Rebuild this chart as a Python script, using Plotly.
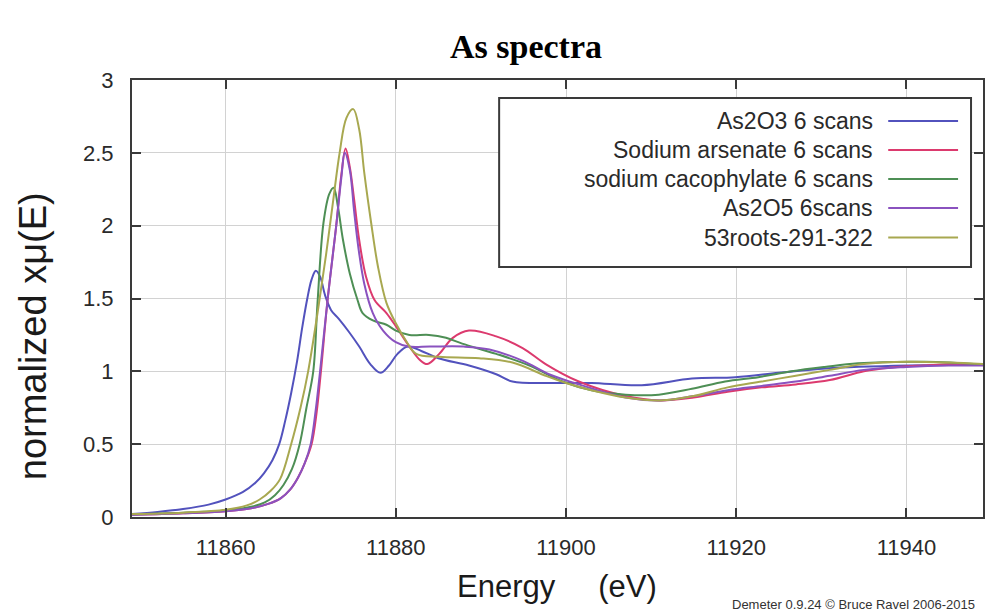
import plotly.graph_objects as go

# ---------------- data ----------------
series_names = ["As2O3 6 scans", "Sodium arsenate 6 scans", "sodium cacophylate 6 scans",
                "As2O5 6scans", "53roots-291-322"]
series_colors = ["#5252bd", "#dc3a6e", "#4e8f55", "#8a52bf", "#a8a850"]

e_as2o3 = [11849, 11852, 11855, 11858, 11860, 11862, 11863.5, 11864.5, 11865.5, 11866.3,
           11867.0, 11867.7, 11868.4, 11869.0, 11869.6, 11870.1, 11870.6, 11871.1, 11871.7, 11872.4,
           11873.3, 11874.5, 11875.7, 11877.0, 11878.2, 11879.2, 11880.2, 11881.4, 11883.0, 11885.0,
           11888.6, 11891.8, 11893.7, 11899.2, 11903.0, 11908.9, 11914.8, 11919.9, 11925.0, 11930.5,
           11940.2, 11949]
mu_as2o3 = [0.02, 0.035, 0.055, 0.085, 0.12, 0.17, 0.235, 0.30, 0.39, 0.50,
            0.66, 0.85, 1.07, 1.30, 1.50, 1.63, 1.69, 1.65, 1.52, 1.42,
            1.36, 1.27, 1.17, 1.05, 0.99, 1.04, 1.12, 1.17, 1.14, 1.09,
            1.04, 0.98, 0.93, 0.92, 0.92, 0.905, 0.95, 0.96, 0.99, 1.02,
            1.04, 1.045]

e_na_arsenate = [11849, 11855, 11860, 11863, 11865, 11866.5, 11867.6, 11868.5, 11869.3, 11870.1,
                 11870.7, 11871.2, 11872.0, 11873.0, 11873.6, 11874.1, 11874.6, 11875.1, 11875.7, 11876.5,
                 11877.5, 11878.9, 11880.0, 11881.6, 11882.8, 11883.7, 11885.1, 11886.7, 11888.6, 11891.8,
                 11894.9, 11897.6, 11901.5, 11907, 11911, 11915, 11919, 11923, 11927, 11931,
                 11935, 11938, 11942, 11946, 11949]
mu_na_arsenate = [0.015, 0.025, 0.04, 0.06, 0.09, 0.13, 0.19, 0.27, 0.37, 0.50,
                  0.72, 1.00, 1.50, 2.00, 2.35, 2.53, 2.40, 2.18, 1.90, 1.65,
                  1.49, 1.40, 1.31, 1.17, 1.08, 1.05, 1.12, 1.23, 1.28, 1.24,
                  1.16, 1.05, 0.93, 0.83, 0.80, 0.82, 0.86, 0.89, 0.91, 0.94,
                  1.00, 1.025, 1.04, 1.05, 1.045]

e_cacodylate = [11849, 11855, 11860, 11863, 11864.6, 11865.8, 11866.8, 11867.8, 11868.7, 11869.5,
                11870.3, 11870.8, 11871.5, 11872.2, 11872.7, 11873.2, 11873.8, 11874.6, 11875.5, 11876.1,
                11877.3, 11878.9, 11880.0, 11881.6, 11883.9, 11885.9, 11887.8, 11891.8, 11895.7, 11899.6,
                11903, 11907, 11910.9, 11914.8, 11918.7, 11922.6, 11926.5, 11930.4, 11934.3, 11942.2,
                11949]
mu_cacodylate = [0.018, 0.03, 0.045, 0.07, 0.10, 0.15, 0.22, 0.33, 0.50, 0.75,
                 1.00, 1.47, 2.02, 2.22, 2.26, 2.13, 1.90, 1.67, 1.49, 1.40,
                 1.35, 1.32, 1.28, 1.25, 1.25, 1.23, 1.19, 1.12, 1.04, 0.93,
                 0.87, 0.84, 0.84, 0.88, 0.93, 0.96, 1.00, 1.03, 1.055, 1.065,
                 1.045]

e_as2o5 = [11849, 11855, 11860, 11863, 11865, 11866.5, 11867.6, 11868.5, 11869.3, 11870.0,
           11870.6, 11871.1, 11872.0, 11873.0, 11873.6, 11874.0, 11874.6, 11875.1, 11875.6, 11876.3,
           11877.3, 11878.5, 11880.0, 11881.5, 11884, 11888, 11891, 11895, 11898, 11901,
           11907, 11911, 11915, 11919, 11923, 11927, 11931, 11935, 11940, 11945,
           11949]
mu_as2o5 = [0.015, 0.025, 0.04, 0.06, 0.09, 0.13, 0.19, 0.27, 0.37, 0.50,
            0.74, 1.00, 1.50, 2.00, 2.33, 2.50, 2.38, 2.10, 1.85, 1.60,
            1.40, 1.28, 1.20, 1.17, 1.17, 1.17, 1.15, 1.07, 0.98, 0.92,
            0.82, 0.80, 0.83, 0.87, 0.90, 0.93, 0.97, 1.01, 1.03, 1.04,
            1.04]

e_roots = [11849, 11855, 11860, 11862.5, 11864.0, 11865.3, 11866.4, 11867.7, 11868.8, 11869.7,
           11870.8, 11871.8, 11872.7, 11873.4, 11874.2, 11875.0, 11875.7, 11876.3, 11877.1, 11877.9,
           11878.9, 11880.0, 11881.2, 11882.4, 11885.1, 11889.8, 11893.7, 11897.6, 11900, 11903,
           11907, 11911, 11915, 11919, 11923, 11927, 11931, 11935, 11940, 11945,
           11949]
mu_roots = [0.02, 0.03, 0.05, 0.08, 0.12, 0.18, 0.26, 0.50, 0.75, 1.00,
            1.40, 1.80, 2.20, 2.50, 2.74, 2.80, 2.66, 2.36, 2.02, 1.72,
            1.47, 1.33, 1.21, 1.12, 1.10, 1.09, 1.06, 0.97, 0.92, 0.87,
            0.82, 0.80, 0.83, 0.89, 0.93, 0.97, 1.01, 1.05, 1.065, 1.06,
            1.05]

x_ticks = [11860, 11880, 11900, 11920, 11940]
x_tick_text = ["11860", "11880", "11900", "11920", "11940"]
y_ticks = [0, 0.5, 1, 1.5, 2, 2.5, 3]
y_tick_text = ["0", "0.5", "1", "1.5", "2", "2.5", "3"]

series_e = [e_as2o3, e_na_arsenate, e_cacodylate, e_as2o5, e_roots]
series_mu = [mu_as2o3, mu_na_arsenate, mu_cacodylate, mu_as2o5, mu_roots]

# ---------------- figure ----------------
W, H = 993, 612
L, R, T, B = 132, 8, 80, 95
PW, PH = W - L - R, H - T - B


def px(xp):
    return (xp - L) / PW


def py(yp):
    return (H - B - yp) / PH


fig = go.Figure()
for name, col, e, mu in zip(series_names, series_colors, series_e, series_mu):
    fig.add_trace(go.Scatter(x=e, y=mu, mode="lines", name=name,
                             line=dict(color=col, width=2, shape="spline", smoothing=1.0),
                             showlegend=False))

axis_common = dict(showline=True, linecolor="#3a3a3a", linewidth=2, mirror="ticks",
                   ticks="inside", ticklen=9, tickwidth=2, tickcolor="#3a3a3a",
                   showgrid=True, gridcolor="#d2d2d2", gridwidth=1, zeroline=False,
                   tickfont=dict(family="Liberation Sans, Arial", size=22, color="#2a2a2a"))

fig.update_layout(
    width=W, height=H, autosize=False,
    margin=dict(l=L, r=R, t=T, b=B),
    paper_bgcolor="white", plot_bgcolor="white",
    xaxis=dict(range=[11849, 11949], tickvals=x_ticks, ticktext=x_tick_text, ticklabelstandoff=10,
               **axis_common),
    yaxis=dict(range=[0, 3], tickvals=y_ticks, ticktext=y_tick_text, ticklabelstandoff=12,
               **axis_common),
)

annotations = []
shapes = []

# title
annotations.append(dict(text="<b>As spectra</b>", x=px(527), y=py(46), xref="paper", yref="paper",
                        showarrow=False, xanchor="center", yanchor="middle",
                        font=dict(family="Liberation Serif, Times New Roman", size=34, color="black")))
# x title
annotations.append(dict(text="Energy\u00a0\u00a0\u00a0\u00a0\u00a0(eV)", x=px(558), y=py(586),
                        xref="paper", yref="paper", showarrow=False, xanchor="center", yanchor="middle",
                        font=dict(family="Liberation Sans, Arial", size=31, color="#1a1a1a")))
# y title
annotations.append(dict(text="normalized xμ(E)", x=px(33), y=py(336), xref="paper", yref="paper",
                        showarrow=False, xanchor="center", yanchor="middle", textangle=-90,
                        font=dict(family="Liberation Sans, Arial", size=38, color="#1a1a1a")))
# footer
annotations.append(dict(text="Demeter 0.9.24 © Bruce Ravel 2006-2015", x=px(979), y=py(604),
                        xref="paper", yref="paper", showarrow=False, xanchor="right", yanchor="middle",
                        font=dict(family="Liberation Sans, Arial", size=13, color="#333333")))

# legend box
shapes.append(dict(type="rect", xref="paper", yref="paper", x0=px(500), x1=px(973), y0=py(98), y1=py(267),
                   line=dict(color="#3a3a3a", width=2), fillcolor="white", layer="above"))
row_y = [121, 150, 179, 208, 237.5]
for name, col, ry in zip(series_names, series_colors, row_y):
    annotations.append(dict(text=name, x=px(877), y=py(ry), xref="paper", yref="paper", showarrow=False,
                            xanchor="right", yanchor="middle",
                            font=dict(family="Liberation Sans, Arial", size=23, color="#2a2a2a")))
    shapes.append(dict(type="line", xref="paper", yref="paper", x0=px(890), x1=px(960), y0=py(ry), y1=py(ry),
                       line=dict(color=col, width=2), layer="above"))

fig.update_layout(annotations=annotations, shapes=shapes)
fig.write_html("out.html")
